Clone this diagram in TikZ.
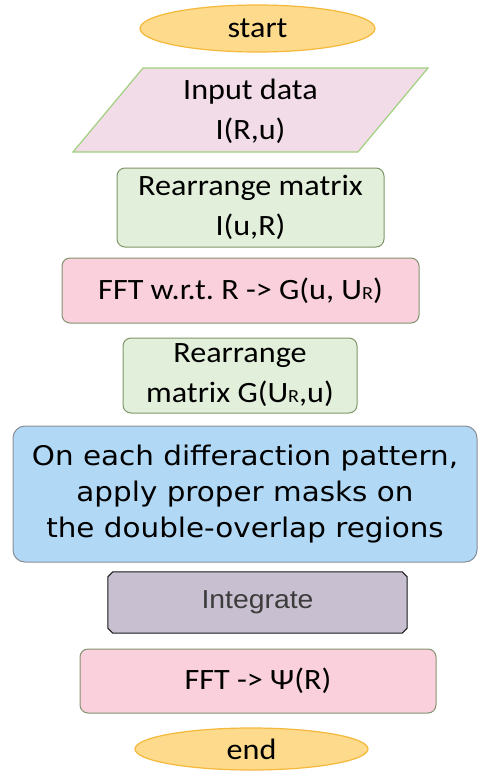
\documentclass[tikz,border=0pt]{standalone}
\usepackage{fontspec}
\setmainfont{Carlito}[FakeStretch=1.09]
\newfontfamily\verd{DejaVu Sans}[FakeStretch=1.09]
\newfontfamily\arialf{Liberation Sans}[FakeStretch=1.09]
\usetikzlibrary{shapes.geometric}

\definecolor{termfill}{HTML}{FDDA8C}
\definecolor{termline}{HTML}{F4B83A}
\definecolor{iofill}{HTML}{F2DCE8}
\definecolor{ioline}{HTML}{9ED07E}
\definecolor{greenfill}{HTML}{E2EFDA}
\definecolor{greenline}{HTML}{7E9669}
\definecolor{pinkfill}{HTML}{F9D0DC}
\definecolor{pinkline}{HTML}{839270}
\definecolor{bluefill}{HTML}{B1D9F6}
\definecolor{blueline}{HTML}{8A8F96}
\definecolor{purfill}{HTML}{C8BFD1}
\definecolor{txtgray}{HTML}{3C3C3C}

\tikzset{
  calibtext/.style={font=\fontsize{29.5}{40}\selectfont, align=center, text=black},
  terminal/.style={ellipse, draw=termline, fill=termfill, line width=1.2pt, inner sep=0pt, calibtext},
  greenbox/.style={rectangle, rounded corners=8pt, draw=greenline, fill=greenfill, line width=1pt, inner sep=0pt, calibtext},
  pinkbox/.style={rectangle, rounded corners=8pt, draw=pinkline, fill=pinkfill, line width=1pt, inner sep=0pt, calibtext},
  bluebox/.style={rectangle, rounded corners=12pt, draw=blueline, fill=bluefill, line width=1pt, inner sep=0pt,
    font=\verd\fontsize{27}{36}\selectfont, align=center, text=black},
  chamtext/.style={rectangle, inner sep=0pt, font=\arialf\fontsize{26}{30}\selectfont, text=txtgray},
  chamline/.style={draw=black!90, fill=purfill, line width=1pt},
}
\newcommand{\smR}{{\fontsize{18.5}{18.5}\selectfont R}}

\begin{document}
\begin{tikzpicture}[x=1pt, y=-1pt]
  \useasboundingbox (0,0) rectangle (478,772);

  \node[terminal, minimum width=235pt, minimum height=47pt] (start) at (257.5,28.5) {start};

  % input parallelogram
  \draw[draw=ioline, fill=iofill, line width=1.2pt]
    (143,68) -- (428,68) -- (358,152) -- (73,152) -- cycle;
  \node[calibtext] (input) at (250.5,111) {Input data\\I(R,u)};

  \node[greenbox, minimum width=267pt, minimum height=79pt] (rearr1) at (250.5,207.5)
    {Rearrange matrix\\I(u,R)};

  \node[pinkbox, minimum width=357pt, minimum height=65pt] (fft1) at (240.5,290.5)
    {FFT w.r.t.\ R -> G(u, U\smR)};

  \node[greenbox, minimum width=234pt, minimum height=75pt] (rearr2) at (240,375.5)
    {Rearrange\\matrix G(U\smR,u)};

  \node[bluebox, minimum width=464pt, minimum height=136pt] (mask) at (245,494)
    {On each differaction pattern,\\apply proper masks on\\the double-overlap regions};

  % integrate box with small chamfered corners
  \node[chamtext, minimum width=299pt, minimum height=61pt] (integ) at (257.5,602.5) {};
  \draw[chamline]
    ([xshift=5pt]integ.north west) -- ([xshift=-5pt]integ.north east)
    -- ([yshift=-5pt]integ.north east) -- ([yshift=5pt]integ.south east)
    -- ([xshift=-5pt]integ.south east) -- ([xshift=5pt]integ.south west)
    -- ([yshift=5pt]integ.south west) -- ([yshift=-5pt]integ.north west) -- cycle;
  \node[chamtext] (integlabel) at (integ.center) {Integrate};

  \node[pinkbox, minimum width=356pt, minimum height=64pt] (fft2) at (258,681)
    {FFT -> Ψ(R)};

  \node[terminal, minimum width=233pt, minimum height=42pt] (end) at (251.5,749) {end};
\end{tikzpicture}
\end{document}
